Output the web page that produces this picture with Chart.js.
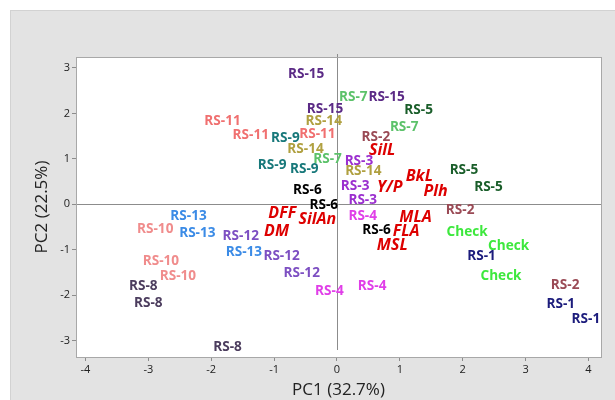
<!DOCTYPE html>
<html><head><meta charset="utf-8">
<script src="https://cdn.jsdelivr.net/npm/chart.js@4"></script>
<style>html,body{margin:0;padding:0;background:#fff;}#wrap{width:615px;height:400px;}</style>
</head><body><div id="wrap"><canvas id="c" width="615" height="400"></canvas></div>
<script>
// Genotype scores (PC1, PC2), three per genotype
const genotypes = ["RS-1","RS-2","RS-3","RS-4","RS-5","RS-6","RS-7","RS-8","RS-9","RS-10","RS-11","RS-12","RS-13","RS-14","RS-15","Check"];
const genoColors = ["#1c1c7c","#9a4a55","#9b2fcf","#e03ee8","#1a5e2a","#000000","#5cc26a","#4c3d5e","#17787a","#f08c8c","#f07070","#7d4fc2","#3b8be6","#b0a040","#5b2a86","#3de83d"];
const genoPC1 = [
  [2.30, 3.56, 3.96],
  [0.62, 1.96, 3.63],
  [0.35, 0.29, 0.41],
  [0.41, -0.12, 0.56],
  [1.30, 2.02, 2.41],
  [-0.47, -0.21, 0.63],
  [0.26, 1.07, -0.15],
  [-3.08, -3.00, -1.74],
  [-0.82, -1.03, -0.52],
  [-2.89, -2.80, -2.53],
  [-1.82, -1.37, -0.31],
  [-1.53, -0.88, -0.56],
  [-2.36, -2.22, -1.48],
  [-0.21, -0.50, 0.42],
  [-0.49, -0.19, 0.79],
  [2.07, 2.73, 2.61]
];
const genoPC2 = [
  [-1.15, -2.20, -2.52],
  [1.47, -0.13, -1.78],
  [0.96, 0.39, 0.09],
  [-0.27, -1.91, -1.79],
  [2.08, 0.76, 0.37],
  [0.31, -0.02, -0.56],
  [2.36, 1.69, 1.00],
  [-1.80, -2.18, -3.14],
  [1.46, 0.86, 0.78],
  [-0.55, -1.26, -1.58],
  [1.84, 1.53, 1.55],
  [-0.71, -1.13, -1.52],
  [-0.27, -0.64, -1.05],
  [1.82, 1.22, 0.74],
  [2.87, 2.10, 2.35],
  [-0.62, -0.93, -1.59]
];
// Trait labels
const traits = ["SilL","BkL","Y/P","Plh","DFF","SilAn","DM","MLA","FLA","MSL"];
const traitPC1 = [0.72, 1.31, 0.84, 1.57, -0.87, -0.31, -0.96, 1.25, 1.10, 0.88];
const traitPC2 = [1.19, 0.62, 0.36, 0.28, -0.21, -0.33, -0.60, -0.29, -0.59, -0.90];
const xTicks = [-4,-3,-2,-1,0,1,2,3,4];
const yTicks = [-3,-2,-1,0,1,2,3];

const datasets = genotypes.map((g, i) => ({
  label: g,
  data: genoPC1[i].map((x, j) => ({x: x, y: genoPC2[i][j]})),
  textColor: genoColors[i],
  font: "bold 13.6px 'Open Sans'",
  pointRadius: 0
}));
datasets.push({
  label: "traits",
  data: traitPC1.map((x, j) => ({x: x, y: traitPC2[j], t: traits[j]})),
  textColor: "#dd0000",
  font: "italic bold 16px 'Open Sans'",
  pointRadius: 0
});

const bgPlugin = {
  id: 'bg',
  beforeDraw(chart) {
    const ctx = chart.ctx, a = chart.chartArea;
    ctx.save();
    ctx.fillStyle = '#ffffff';
    ctx.fillRect(0, 0, chart.width, chart.height);
    ctx.fillStyle = '#e3e3e3';
    ctx.fillRect(10, 10, chart.width - 10, chart.height - 10);
    ctx.strokeStyle = '#d2d2d2';
    ctx.lineWidth = 1;
    ctx.strokeRect(10.5, 10.5, chart.width, chart.height);
    ctx.fillStyle = '#ffffff';
    ctx.fillRect(a.left, a.top, a.right - a.left, a.bottom - a.top);
    ctx.restore();
  },
  afterDatasetsDraw(chart) {
    const ctx = chart.ctx, a = chart.chartArea;
    const xs = chart.scales.x, ys = chart.scales.y;
    ctx.save();
    // zero lines
    ctx.strokeStyle = '#8c8c8c';
    ctx.lineWidth = 1;
    const x0 = Math.round(xs.getPixelForValue(0)) + 0.5;
    const y0 = Math.round(ys.getPixelForValue(0)) + 0.5;
    ctx.beginPath();
    ctx.moveTo(x0, a.top - 3); ctx.lineTo(x0, a.bottom - 7);
    ctx.moveTo(a.left, y0); ctx.lineTo(a.right, y0);
    ctx.stroke();
    // frame
    ctx.strokeStyle = '#a8a8a8';
    ctx.strokeRect(Math.round(a.left) + 0.5, Math.round(a.top) + 0.5, Math.round(a.right - a.left), Math.round(a.bottom - a.top));
    // labels
    ctx.textAlign = 'center';
    ctx.textBaseline = 'middle';
    chart.data.datasets.forEach(ds => {
      ctx.fillStyle = ds.textColor;
      ctx.font = ds.font;
      ds.data.forEach(p => {
        const px = xs.getPixelForValue(p.x), py = ys.getPixelForValue(p.y);
        ctx.fillText(p.t || ds.label, px, py);
      });
    });
    ctx.restore();
  }
};

new Chart(document.getElementById('c'), {
  type: 'scatter',
  data: { datasets: datasets },
  options: {
    responsive: false,
    animation: false,
    events: [],
    layout: { padding: { left: 26, top: 57, right: 14, bottom: 0 } },
    plugins: { legend: { display: false }, tooltip: { enabled: false } },
    scales: {
      x: {
        type: 'linear', min: -4.15, max: 4.2,
        afterBuildTicks(s) { s.ticks = xTicks.map(v => ({value: v})); },
        afterFit(s) { s.height = 43; },
        grid: { display: true, drawOnChartArea: false, drawTicks: true, tickLength: 4, color: '#8c8c8c' },
        border: { display: false },
        ticks: { color: '#222', font: { family: 'Open Sans', size: 11 }, padding: 2, maxRotation: 0 },
        title: { display: true, text: 'PC1 (32.7%)', color: '#222', font: { family: 'Open Sans', size: 17 }, padding: { top: 0, bottom: 0 } }
      },
      y: {
        type: 'linear', min: -3.36, max: 3.24,
        afterBuildTicks(s) { s.ticks = yTicks.map(v => ({value: v})); },
        afterFit(s) { s.width = 50; },
        grid: { display: true, drawOnChartArea: false, drawTicks: true, tickLength: 4, color: '#8c8c8c' },
        border: { display: false },
        ticks: { color: '#222', font: { family: 'Open Sans', size: 11 }, padding: 2 },
        title: { display: true, text: 'PC2 (22.5%)', color: '#222', font: { family: 'Open Sans', size: 17 }, padding: { top: 6, bottom: 0 } }
      }
    }
  },
  plugins: [bgPlugin]
});
</script>
</body></html>
